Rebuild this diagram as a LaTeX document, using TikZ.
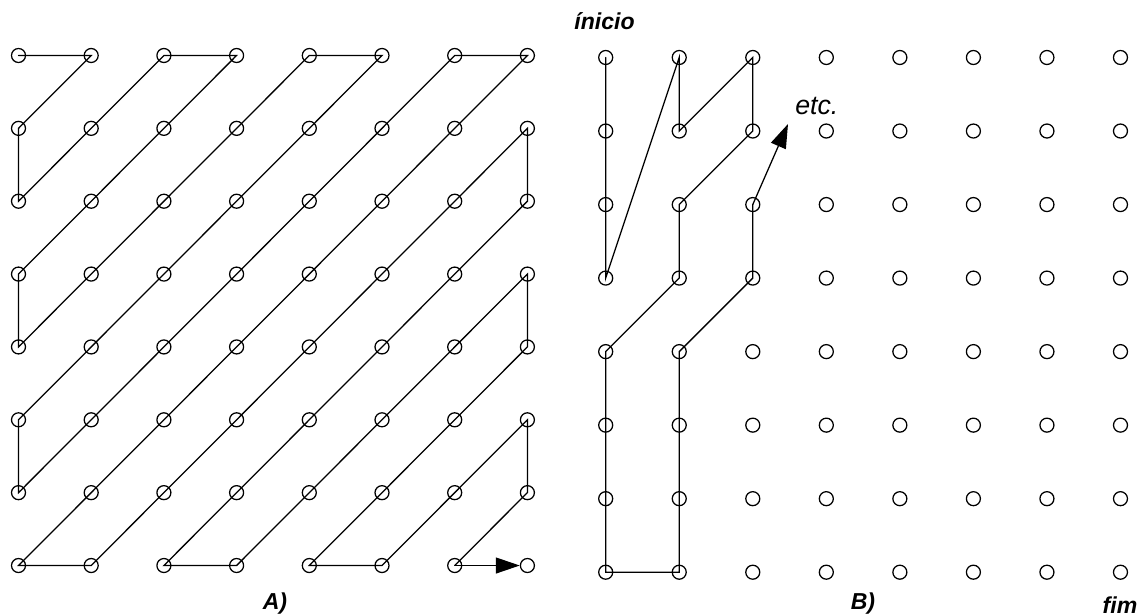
\documentclass[tikz,border=0pt]{standalone}
\usepackage{fontspec}
\setmainfont{Liberation Sans}
\usetikzlibrary{arrows.meta}

\begin{document}
\begin{tikzpicture}[x=0.025cm,y=-0.025cm,line width=0.9pt,cap=round,
    >={Triangle[length=0.6cm,width=0.4cm]},
    ponto/.style={circle,draw,inner sep=0pt,minimum size=0.35cm},
    rotulo/.style={font=\fontsize{16.4}{18}\selectfont\bfseries\itshape,anchor=base}]

        \useasboundingbox (0,0) rectangle (1140,616);

        \foreach \i in {0,...,7}
          \foreach \j in {0,...,7} {
            \node[ponto] (a-\i-\j) at ({18.5+72.7*\i},{55.5+72.86*\j}) {};
            \node[ponto] (b-\i-\j) at ({605.7+73.54*\i},{57.5+73.53*\j}) {};
          }

        \draw (a-0-0.center) -- (a-1-0.center) -- (a-0-1.center) -- (a-0-2.center)
          -- (a-2-0.center) -- (a-3-0.center) -- (a-0-3.center) -- (a-0-4.center)
          -- (a-4-0.center) -- (a-5-0.center) -- (a-0-5.center) -- (a-0-6.center)
          -- (a-6-0.center) -- (a-7-0.center) -- (a-0-7.center) -- (a-1-7.center)
          -- (a-7-1.center) -- (a-7-2.center) -- (a-2-7.center) -- (a-3-7.center)
          -- (a-7-3.center) -- (a-7-4.center) -- (a-4-7.center) -- (a-5-7.center)
          -- (a-7-5.center) -- (a-7-6.center) -- (a-6-7.center);
        \draw[->] (a-6-7.center) -- (a-7-7);

        \draw (b-0-0.center) -- (b-0-3.center) -- (b-1-0.center) -- (b-1-1.center)
          -- (b-2-0.center) -- (b-2-1.center) -- (b-1-2.center) -- (b-1-3.center)
          -- (b-0-4.center) -- (b-0-7.center) -- (b-1-7.center) -- (b-1-4.center)
          -- (b-2-3.center) -- (b-2-2.center);
        \coordinate (seta) at (788,124);
        \draw[->] (b-2-2.center) -- (seta);

        \node[rotulo] (inicio) at (604.5,30) {ínicio};
        \node[font=\fontsize{19}{21}\selectfont\itshape,anchor=base west] (etc) at (790,115) {etc.};
        \node[rotulo] (rotA) at (275,609) {A)};
        \node[rotulo] (rotB) at (863,609) {B)};
        \node[rotulo] (fim) at (1120,613) {fim};
\end{tikzpicture}
\end{document}
